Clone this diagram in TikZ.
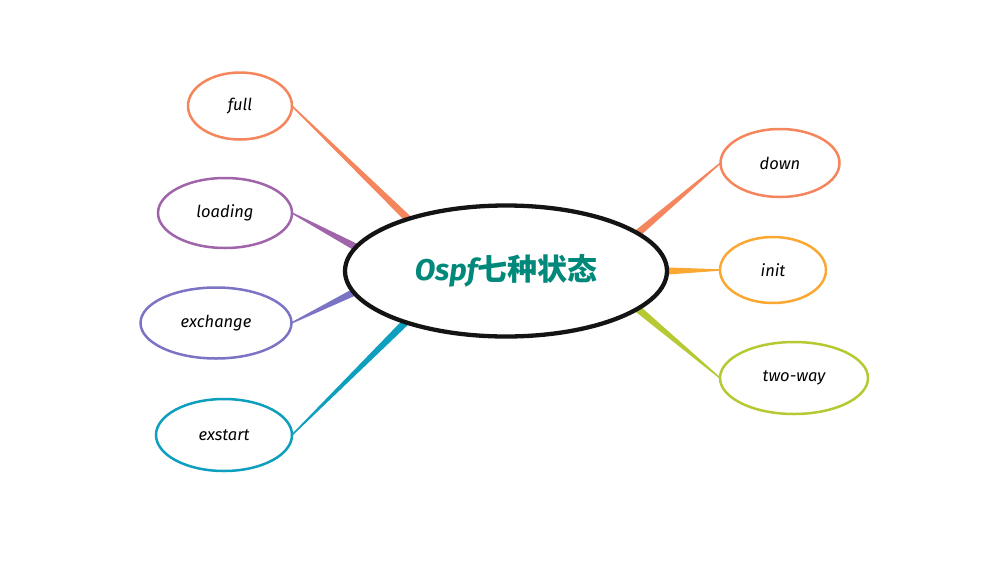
\documentclass[tikz,border=0pt]{standalone}
\usepackage{fontspec}
\setmainfont{Fira Sans}
\newfontfamily\cjk{Noto Sans CJK SC}
\usetikzlibrary{calc,shapes.geometric}

\definecolor{hubtext}{RGB}{0,137,123}
\definecolor{coral}{RGB}{245,133,92}
\definecolor{plum}{RGB}{160,100,170}
\definecolor{lavender}{RGB}{123,115,196}
\definecolor{cyanish}{RGB}{14,158,190}
\definecolor{amber}{RGB}{250,168,50}
\definecolor{lime}{RGB}{182,201,50}

\pgfdeclarelayer{background}
\pgfsetlayers{background,main}

\tikzset{
  hub/.style={ellipse, draw=black!92, line width=4.3pt, fill=white, inner sep=0pt,
    outer sep=0pt, minimum width=322pt, minimum height=131pt, text=hubtext,
    font=\bfseries\fontsize{30}{33}\selectfont},
  leaf/.style={ellipse, draw=#1, line width=2.5pt, fill=white, inner sep=0pt,
    outer sep=0pt, font=\itshape\fontsize{16.5}{19}\selectfont}
}

% tapered branch: thin at the leaf, thick at the hub
\newcommand{\branch}[3]{%
  \fill[#3] ($(#1)!0.7pt!90:(#2)$) -- ($(#2)!3.6pt!-90:(#1)$)
    -- ($(#2)!3.6pt!90:(#1)$) -- ($(#1)!0.7pt!-90:(#2)$) -- cycle;}

\begin{document}
\begin{tikzpicture}[x=1pt, y=-1pt]

    \useasboundingbox (0,0) rectangle (987,560);

    % Centre
    \node[hub] (hub) at (506,271) {\itshape Ospf\upshape\cjk 七种状态};

    % Left states
    \node[leaf=coral, minimum width=104pt, minimum height=67pt] (full) at (240,106) {full};
    \node[leaf=plum, minimum width=134pt, minimum height=70pt] (loading) at (225,213) {loading};
    \node[leaf=lavender, minimum width=151pt, minimum height=71pt] (exchange) at (216,323) {exchange};
    \node[leaf=cyanish, minimum width=136pt, minimum height=72pt] (exstart) at (224,435) {exstart};

    % Right states
    \node[leaf=coral, minimum width=119pt, minimum height=68pt] (down) at (780,163) {down};
    \node[leaf=amber, minimum width=106pt, minimum height=66pt] (init) at (773,270) {init};
    \node[leaf=lime, minimum width=148pt, minimum height=72pt] (twoway) at (794,378) {two-way};

    % Branches
    \begin{pgfonlayer}{background}
        \branch{full.east}{hub.152}{coral}
        \branch{loading.east}{hub.171}{plum}
        \branch{exchange.east}{hub.188}{lavender}
        \branch{exstart.east}{hub.207}{cyanish}
        \branch{down.west}{hub.16}{coral}
        \branch{init.west}{hub.0}{amber}
        \branch{twoway.west}{hub.-16}{lime}
    \end{pgfonlayer}

\end{tikzpicture}
\end{document}
